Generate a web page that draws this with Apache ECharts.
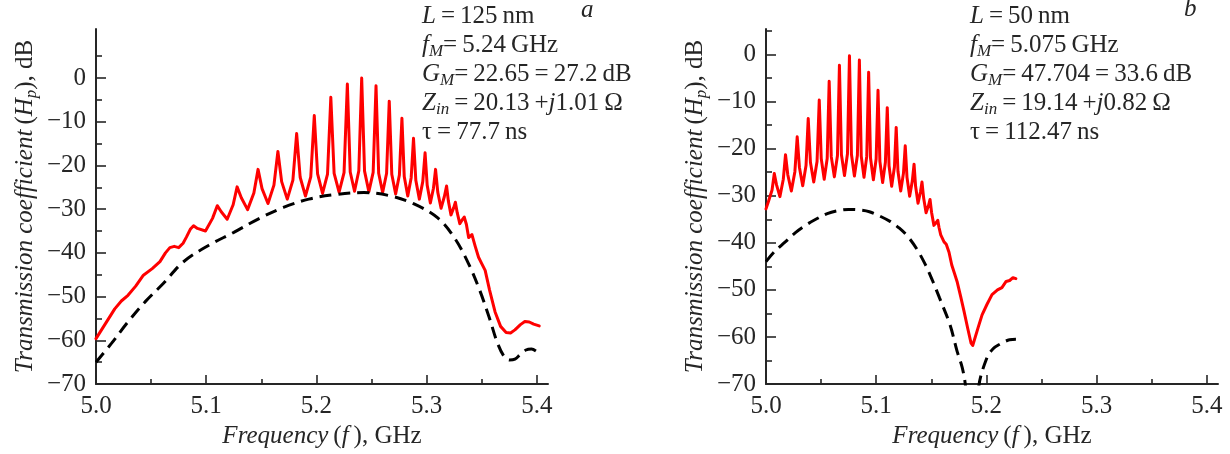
<!DOCTYPE html>
<html>
<head>
<meta charset="utf-8">
<script src="https://cdn.jsdelivr.net/npm/echarts@6/dist/echarts.min.js"></script>
<style>
html, body { margin: 0; padding: 0; background: #fff; }
#root { width: 1230px; height: 454px; }
</style>
</head>
<body>
<div id="root"></div>
<script>
// ticks
const xMajor = [5.0, 5.1, 5.2, 5.3, 5.4];
const xMinor = [5.05, 5.15, 5.25, 5.35];
const yMajor = [-70, -60, -50, -40, -30, -20, -10, 0];
const yMinor = [-65, -55, -45, -35, -25, -15, -5, 5];

// panel a: L = 125 nm  [GHz, dB]
const leftRed = [
  [5.000,-59.6],[5.008,-56.4],[5.017,-52.8],[5.023,-51.0],[5.029,-49.7],[5.036,-47.6],[5.043,-45.1],
  [5.051,-43.6],[5.058,-42.0],[5.063,-40.0],[5.067,-38.8],[5.071,-38.5],[5.075,-38.8],[5.079,-37.8],
  [5.082,-36.4],[5.0855,-34.6],[5.0885,-33.8],[5.092,-34.4],[5.0993,-35.0],
  [5.1057,-32.1],[5.110,-29.2],[5.1136,-30.6],[5.119,-32.3],
  [5.1244,-29.0],[5.128,-24.9],[5.1318,-27.4],[5.1375,-30.1],
  [5.1432,-26.3],[5.147,-20.9],[5.1506,-25.3],[5.156,-28.7],
  [5.1614,-24.5],[5.165,-16.8],[5.1684,-23.7],[5.1735,-27.7],
  [5.1786,-23.35],[5.182,-12.7],[5.1852,-22.7],[5.190,-27.0],
  [5.1948,-22.6],[5.198,-8.6],[5.201,-21.95],[5.2055,-26.4],
  [5.210,-22.0],[5.213,-4.4],[5.216,-21.8],[5.2205,-26.1],
  [5.225,-21.65],[5.228,-1.4],[5.2306,-21.5],[5.2345,-25.9],
  [5.2384,-21.2],[5.241,0.0],[5.2436,-21.3],[5.2475,-26.0],
  [5.2514,-21.6],[5.254,-1.8],[5.2564,-21.8],[5.260,-26.2],
  [5.2636,-21.8],[5.266,-5.3],[5.2683,-22.0],[5.2718,-26.5],
  [5.2752,-22.2],[5.2775,-9.2],[5.2796,-22.55],[5.2828,-27.0],
  [5.2859,-22.8],[5.288,-13.8],[5.2901,-23.4],[5.2933,-27.7],
  [5.2964,-23.7],[5.2985,-17.1],[5.3004,-24.5],[5.3033,-28.6],
  [5.3061,-25.2],[5.308,-20.9],[5.310,-26.1],[5.313,-29.8],
  [5.316,-27.1],[5.318,-24.7],[5.3196,-28.1],[5.322,-31.3],
  [5.3244,-29.7],[5.326,-28.4],[5.3276,-30.75],[5.330,-33.3],
  [5.332,-32.5],[5.334,-31.8],[5.336,-33.5],[5.338,-36.5],[5.341,-35.8],[5.344,-38.5],
  [5.347,-41.0],[5.350,-42.5],[5.353,-44.0],[5.357,-48.5],[5.362,-53.5],[5.367,-56.8],
  [5.372,-58.2],[5.376,-58.3],[5.380,-57.6],[5.385,-56.4],[5.389,-55.7],[5.393,-55.8],
  [5.397,-56.3],[5.402,-56.7]
];
const leftDashed = [
  [5.000,-65.0],[5.014,-60.7],[5.028,-56.1],[5.0445,-51.2],[5.061,-47.0],[5.079,-42.1],
  [5.102,-38.3],[5.125,-35.3],[5.1475,-32.2],[5.170,-29.6],[5.193,-27.7],[5.216,-26.7],
  [5.243,-26.2],[5.266,-26.9],[5.2885,-28.8],[5.310,-32.0],[5.325,-36.5],[5.338,-42.5],
  [5.348,-48.5],[5.357,-55.0],[5.364,-60.5],[5.370,-63.6],[5.375,-64.5],[5.380,-64.3],
  [5.385,-63.2],[5.390,-62.2],[5.395,-62.0],[5.402,-63.0]
];

// panel b: L = 50 nm
const rightRed = [
  [5.000,-32.8],[5.0025,-31.0],[5.0055,-28.8],[5.0075,-25.3],[5.0095,-27.65],[5.0126,-30.2],
  [5.0157,-26.5],[5.0177,-21.3],[5.0198,-25.6],[5.023,-29.0],
  [5.0262,-24.9],[5.0283,-17.5],[5.0303,-23.95],[5.0333,-27.9],
  [5.0363,-23.6],[5.0383,-13.6],[5.0403,-22.9],[5.0433,-27.1],
  [5.0463,-22.75],[5.0483,-9.7],[5.0501,-22.1],[5.0528,-26.5],
  [5.0555,-22.1],[5.0573,-5.7],[5.0592,-21.7],[5.062,-26.0],
  [5.0648,-21.5],[5.0666,-2.3],[5.0684,-21.25],[5.0712,-25.7],
  [5.0739,-21.1],[5.0757,-0.3],[5.0775,-21.2],[5.0802,-25.8],
  [5.0829,-21.4],[5.0847,-1.2],[5.0864,-21.6],[5.0889,-26.1],
  [5.0914,-21.6],[5.0931,-3.8],[5.0948,-22.0],[5.0974,-26.6],
  [5.0999,-22.2],[5.1016,-7.6],[5.1033,-22.7],[5.1058,-27.2],
  [5.1083,-22.9],[5.1100,-11.3],[5.1116,-23.65],[5.114,-28.0],
  [5.1165,-23.9],[5.1181,-15.5],[5.1197,-24.8],[5.1222,-29.0],
  [5.1247,-25.2],[5.1263,-19.4],[5.1279,-26.1],[5.1303,-30.1],
  [5.1327,-26.9],[5.1343,-23.3],[5.1357,-28.0],[5.1379,-31.6],
  [5.1401,-29.2],[5.1415,-27.1],[5.143,-30.5],[5.1452,-33.6],
  [5.1474,-32.1],[5.1488,-30.8],[5.1502,-33.55],[5.1523,-36.3],
  [5.1544,-35.7],[5.1558,-35.2],[5.1569,-36.7],[5.1585,-38.3],
  [5.1615,-39.8],[5.1635,-40.3],[5.166,-42.0],[5.1685,-44.7],[5.171,-46.5],[5.1733,-48.2],
  [5.1765,-51.3],[5.1796,-54.5],[5.183,-58.2],[5.186,-61.3],[5.1875,-61.8],[5.189,-61.4],
  [5.1924,-58.0],[5.196,-55.3],[5.2004,-53.1],[5.205,-51.0],[5.21,-50.0],[5.214,-49.5],
  [5.2178,-48.2],[5.221,-48.0],[5.224,-47.4],[5.2267,-47.6]
];
const rightDashed = [
  [5.000,-44.0],[5.008,-41.8],[5.0175,-39.8],[5.027,-37.8],[5.0365,-36.2],[5.046,-34.9],
  [5.0556,-33.8],[5.065,-33.2],[5.0747,-32.9],[5.084,-33.0],[5.0938,-33.4],[5.103,-34.3],
  [5.1129,-35.5],[5.121,-36.9],[5.1288,-38.7],[5.137,-41.4],[5.1447,-44.7],[5.151,-48.0],
  [5.1574,-51.7],[5.1669,-57.4],[5.1733,-63.0],[5.178,-66.5],[5.181,-70.5],[5.187,-88.0],
  [5.193,-70.5],[5.2004,-64.4],[5.206,-62.5],[5.2115,-61.6],[5.2209,-60.6],[5.2267,-60.5]
];

const notesA = [
  '{i|L}{n|\u2009=\u2009125\u2009nm}',
  '{i|f}{s|M}{n|=\u20095.24\u2009GHz}',
  '{i|G}{s|M}{n|=\u200922.65\u2009=\u200927.2\u2009dB}',
  '{i|Z}{s|in}{n|\u2009=\u200920.13\u2009+}{i|j}{n|1.01\u2009\u03A9}',
  '{n|\u03C4\u2009=\u200977.7\u2009ns}'
];
const notesB = [
  '{i|L}{n|\u2009=\u200950\u2009nm}',
  '{i|f}{s|M}{n|=\u20095.075\u2009GHz}',
  '{i|G}{s|M}{n|=\u200947.704\u2009=\u200933.6\u2009dB}',
  '{i|Z}{s|in}{n|\u2009=\u200919.14\u2009+}{i|j}{n|0.82\u2009\u03A9}',
  '{n|\u03C4\u2009=\u2009112.47\u2009ns}'
];

const INK = '#262626';
const FONT = 'Liberation Serif';
const FS = 25;

const labelRich = {
  n: { fontFamily: FONT, fontSize: FS, color: INK, lineHeight: 29 },
  i: { fontFamily: FONT, fontSize: FS, fontStyle: 'italic', color: INK, lineHeight: 29 },
  s: { fontFamily: FONT, fontSize: 17, fontStyle: 'italic', color: INK, lineHeight: 10, verticalAlign: 'bottom' }
};
const gfxRich = {
  n: { fontFamily: FONT, fontSize: FS, fill: INK, lineHeight: 29 },
  i: { fontFamily: FONT, fontSize: FS, fontStyle: 'italic', fill: INK, lineHeight: 29 },
  s: { fontFamily: FONT, fontSize: 17, fontStyle: 'italic', fill: INK, lineHeight: 10, verticalAlign: 'bottom' }
};

const minus = v => String(v).replace('-', '\u2212');

function xAxes(grid) {
  return [
    {
      gridIndex: grid, type: 'value', min: 5.0, max: 5.41, interval: 0.1, position: 'bottom',
      axisLine: { show: true, onZero: false, lineStyle: { color: INK, width: 2 } },
      axisTick: { show: true, inside: true, length: 9, customValues: xMajor, lineStyle: { color: INK, width: 1.6 } },
      axisLabel: { customValues: xMajor, formatter: v => v.toFixed(1), margin: 10,
        fontFamily: FONT, fontSize: FS, color: INK },
      splitLine: { show: false },
      name: '{i|Frequency}{n|\u2009(}{i|f}{n|\u2009), GHz}', nameLocation: 'middle', nameGap: 36,
      nameTextStyle: { fontFamily: FONT, fontSize: FS, color: INK, rich: labelRich }
    },
    {
      gridIndex: grid, type: 'value', min: 5.0, max: 5.41, interval: 0.05, position: 'bottom',
      axisLine: { show: false, onZero: false },
      axisTick: { show: true, inside: true, length: 5, customValues: xMinor, lineStyle: { color: INK, width: 1.6 } },
      axisLabel: { show: false }, splitLine: { show: false }
    }
  ];
}

function yAxes(grid, top) {
  return [
    {
      gridIndex: grid, type: 'value', min: -70, max: top, interval: 10, position: 'left',
      axisLine: { show: true, onZero: false, lineStyle: { color: INK, width: 2 } },
      axisTick: { show: true, inside: true, length: 10, customValues: yMajor, lineStyle: { color: INK, width: 1.6 } },
      axisLabel: { customValues: yMajor, formatter: minus, margin: 10,
        fontFamily: FONT, fontSize: FS, color: INK },
      splitLine: { show: false },
      name: '{i|Transmission coefficient}{n|\u2009(}{i|H}{s|p}{n|), dB}', nameLocation: 'middle', nameGap: 56,
      nameTextStyle: { fontFamily: FONT, fontSize: FS, color: INK, rich: labelRich }
    },
    {
      gridIndex: grid, type: 'value', min: -70, max: top, interval: 5, position: 'left',
      axisLine: { show: false, onZero: false },
      axisTick: { show: true, inside: true, length: 6, customValues: yMinor, lineStyle: { color: INK, width: 1.6 } },
      axisLabel: { show: false }, splitLine: { show: false }
    }
  ];
}

function redLine(xi, yi, data) {
  return {
    type: 'line', xAxisIndex: xi, yAxisIndex: yi, data: data,
    symbol: 'none', showSymbol: false, z: 2,
    lineStyle: { color: '#ff0000', width: 3, join: 'round', cap: 'round' }
  };
}
function dashLine(xi, yi, data) {
  return {
    type: 'line', xAxisIndex: xi, yAxisIndex: yi, data: data,
    symbol: 'none', showSymbol: false, smooth: 0.35, z: 3,
    lineStyle: { color: '#000000', width: 3, type: [12, 7] }
  };
}

const chart = echarts.init(document.getElementById('root'));
chart.setOption({
  animation: false,
  backgroundColor: '#ffffff',
  grid: [
    { left: 96, top: 29, width: 452, height: 357 },
    { left: 766, top: 29, width: 452, height: 357 }
  ],
  xAxis: [...xAxes(0), ...xAxes(1)],
  yAxis: [...yAxes(0, 11.2), ...yAxes(1, 5.4)],
  series: [
    redLine(0, 0, leftRed),
    dashLine(0, 0, leftDashed),
    redLine(2, 2, rightRed),
    dashLine(2, 2, rightDashed)
  ],
  graphic: [
    { type: 'text', left: 422, top: 4, style: { text: notesA.join('\n'), rich: gfxRich, fill: INK } },
    { type: 'text', left: 581, top: -2, style: { text: 'a', fontFamily: FONT, fontSize: FS, fontStyle: 'italic', fill: INK } },
    { type: 'text', left: 970, top: 4, style: { text: notesB.join('\n'), rich: gfxRich, fill: INK } },
    { type: 'text', left: 1184, top: -3, style: { text: 'b', fontFamily: FONT, fontSize: FS, fontStyle: 'italic', fill: INK } }
  ]
});
</script>
</body>
</html>
